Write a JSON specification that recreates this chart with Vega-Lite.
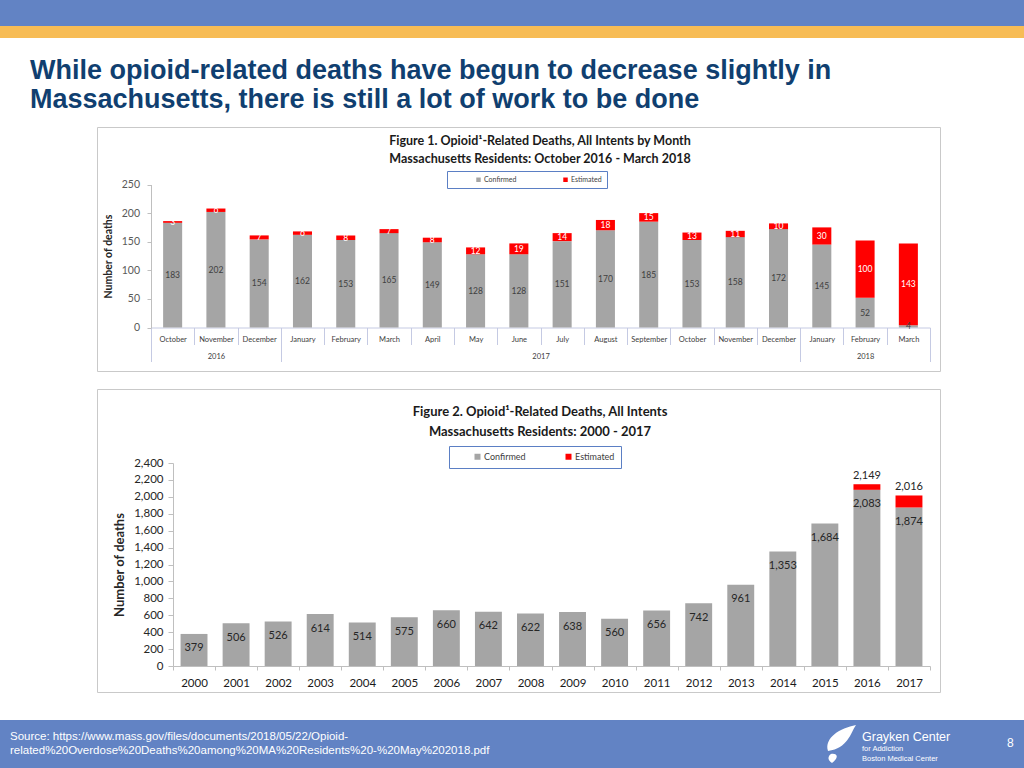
{
  "$schema": "https://vega.github.io/schema/vega-lite/v6.json",
  "padding": 0,
  "background": "#ffffff",
  "spacing": 0,
  "bounds": "full",
  "config": {"view": {"stroke": null}, "font": "Lato", "concat": {"spacing": 0}},
  "resolve": {"scale": {"color": "independent"}, "legend": {"color": "independent"}},
  "datasets": {
    "monthly": [
      {"key": "2016-10", "Confirmed": 183, "Estimated": 3},
      {"key": "2016-11", "Confirmed": 202, "Estimated": 6},
      {"key": "2016-12", "Confirmed": 154, "Estimated": 7},
      {"key": "2017-01", "Confirmed": 162, "Estimated": 6},
      {"key": "2017-02", "Confirmed": 153, "Estimated": 8},
      {"key": "2017-03", "Confirmed": 165, "Estimated": 7},
      {"key": "2017-04", "Confirmed": 149, "Estimated": 8},
      {"key": "2017-05", "Confirmed": 128, "Estimated": 12},
      {"key": "2017-06", "Confirmed": 128, "Estimated": 19},
      {"key": "2017-07", "Confirmed": 151, "Estimated": 14},
      {"key": "2017-08", "Confirmed": 170, "Estimated": 18},
      {"key": "2017-09", "Confirmed": 185, "Estimated": 15},
      {"key": "2017-10", "Confirmed": 153, "Estimated": 13},
      {"key": "2017-11", "Confirmed": 158, "Estimated": 11},
      {"key": "2017-12", "Confirmed": 172, "Estimated": 10},
      {"key": "2018-01", "Confirmed": 145, "Estimated": 30},
      {"key": "2018-02", "Confirmed": 52, "Estimated": 100},
      {"key": "2018-03", "Confirmed": 4, "Estimated": 143}
    ],
    "annual": [
      {"year": "2000", "Confirmed": 379},
      {"year": "2001", "Confirmed": 506},
      {"year": "2002", "Confirmed": 526},
      {"year": "2003", "Confirmed": 614},
      {"year": "2004", "Confirmed": 514},
      {"year": "2005", "Confirmed": 575},
      {"year": "2006", "Confirmed": 660},
      {"year": "2007", "Confirmed": 642},
      {"year": "2008", "Confirmed": 622},
      {"year": "2009", "Confirmed": 638},
      {"year": "2010", "Confirmed": 560},
      {"year": "2011", "Confirmed": 656},
      {"year": "2012", "Confirmed": 742},
      {"year": "2013", "Confirmed": 961},
      {"year": "2014", "Confirmed": 1353},
      {"year": "2015", "Confirmed": 1684},
      {"year": "2016", "Confirmed": 2083, "Estimated": 66},
      {"year": "2017", "Confirmed": 1874, "Estimated": 142}
    ]
  },
  "vconcat": [
    {"width": 1024, "height": 26, "data": {"values": [{}]}, "mark": {"type": "point", "opacity": 0}, "view": {"fill": "#6283c4", "stroke": null}},
    {"width": 1024, "height": 12, "data": {"values": [{}]}, "mark": {"type": "point", "opacity": 0}, "view": {"fill": "#f7bc55", "stroke": null}},
    {
      "width": 1024, "height": 88,
      "data": {"values": [{}]}, "mark": {"type": "point", "opacity": 0},
      "title": {
        "text": ["While opioid-related deaths have begun to decrease slightly in", "Massachusetts, there is still a lot of work to be done"],
        "anchor": "start", "frame": "group", "dx": 30, "offset": -75.5,
        "font": "Liberation Sans", "fontSize": 27, "fontWeight": "bold", "color": "#103f70", "lineHeight": 29
      }
    },
    {
      "hconcat": [
        {"width": 97, "height": 244, "data": {"values": [{}]}, "mark": {"type": "point", "opacity": 0}},
        {
          "width": 843, "height": 244,
          "data": {"name": "monthly"},
          "view": {"stroke": "#c9c9c9", "fill": "#ffffff"},
          "title": {
            "text": ["Figure 1. Opioid¹-Related Deaths, All Intents by Month", "Massachusetts Residents: October 2016 - March 2018"],
            "anchor": "middle", "frame": "group", "dx": 21.5, "offset": -38.6,
            "font": "Lato", "fontSize": 12.5, "fontWeight": "bold", "color": "#1a1a1a", "lineHeight": 18
          },
          "transform": [
            {"fold": ["Confirmed", "Estimated"], "as": ["type", "value"]},
            {"window": [{"op": "sum", "field": "value", "as": "cum1"}], "groupby": ["key"], "sort": [{"field": "type", "order": "ascending"}], "frame": [null, 0]},
            {"window": [{"op": "sum", "field": "cum1", "as": "cum2"}], "groupby": ["key"], "sort": [{"field": "type", "order": "ascending"}], "frame": [null, 0]}
          ],
          "layer": [
            {
              "mark": {"type": "bar", "width": {"band": 0.44}},
              "encoding": {
                "x": {
                  "field": "key", "type": "ordinal",
                  "scale": {"range": [54, 833], "paddingInner": 0, "paddingOuter": 0},
                  "axis": {
                    "orient": "bottom", "offset": -43.5, "title": null, "labelAngle": 0,
                    "labelExpr": "timeFormat(toDate(datum.value + '-15T12:00:00'), '%B')",
                    "tickBand": "extent", "tickSize": 17, "tickColor": "#c5cae3", "domainColor": "#c5cae3",
                    "labelPadding": -9, "labelFontSize": 7.5, "labelColor": "#404040", "labelOverlap": false, "labelFont": "Lato"
                  }
                },
                "y": {
                  "field": "value", "type": "quantitative", "stack": "zero",
                  "scale": {"domain": [0, 250], "range": [200.5, 57.5], "nice": false, "zero": false},
                  "axis": {
                    "orient": "left", "offset": -54, "values": [0, 50, 100, 150, 200, 250],
                    "title": "Number of deaths", "titleFontSize": 10.5, "titleFontWeight": "bold", "titleColor": "#262626", "titlePadding": 8, "titleFont": "Lato",
                    "tickSize": 4, "tickColor": "#bfbfbf", "domainColor": "#bfbfbf", "labelOverlap": false,
                    "labelPadding": 7.5, "labelFontSize": 10.5, "labelColor": "#595959", "grid": false, "labelFont": "Lato"
                  }
                },
                "color": {
                  "field": "type", "type": "nominal",
                  "scale": {"domain": ["Confirmed", "Estimated"], "range": ["#a5a5a5", "#ff0000"]},
                  "legend": {
                    "orient": "none", "legendX": 350, "legendY": 44, "direction": "horizontal", "title": null,
                    "strokeColor": "#5b7fc4", "fillColor": "#ffffff", "padding": 5,
                    "symbolType": "square", "symbolSize": 20, "symbolStrokeWidth": 0,
                    "labelFontSize": 7, "labelColor": "#404040", "labelFont": "Lato",
                    "columnPadding": 22, "symbolOffset": 23, "labelOffset": 2
                  }
                },
                "order": {"field": "type", "sort": "ascending"}
              }
            },
            {
              "mark": {"type": "text", "baseline": "middle", "fontSize": 8.5, "font": "Lato"},
              "encoding": {
                "x": {
                  "field": "key", "type": "ordinal",
                  "axis": {
                    "orient": "bottom", "offset": -43.5, "title": null, "domain": false, "labelAngle": 0,
                    "tickBand": "extent", "tickSize": 34, "tickColor": "#c5cae3",
                    "tickOpacity": {"condition": {"test": "datum.extra || indexof(['2016-12','2017-12','2018-03'], datum.value) >= 0", "value": 1}, "value": 0},
                    "labelPadding": -9,
                    "labelExpr": "datum.value === '2016-11' ? '2016' : datum.value === '2017-06' ? '2017' : datum.value === '2018-02' ? '2018' : ''",
                    "labelOffset": {"condition": {"test": "datum.value === '2017-06'", "value": 21.7}, "value": 0},
                    "labelFontSize": 7.5, "labelColor": "#404040", "labelOverlap": false, "labelFont": "Lato"
                  }
                },
                "y": {
                  "field": "cum2", "type": "quantitative",
                  "scale": {"domain": [0, 500], "range": [200.5, 57.5], "nice": false, "zero": false},
                  "axis": null
                },
                "text": {"field": "value", "type": "quantitative"},
                "color": {"condition": {"test": "datum.type === 'Estimated'", "value": "#ffffff"}, "value": "#404040"}
              }
            }
          ],
          "resolve": {"scale": {"y": "independent"}, "axis": {"x": "independent"}}
        },
        {"width": 84, "height": 244, "data": {"values": [{}]}, "mark": {"type": "point", "opacity": 0}}
      ],
      "spacing": 0, "bounds": "flush",
      "resolve": {"scale": {"color": "independent"}, "legend": {"color": "independent"}}
    },
    {"width": 1024, "height": 16, "data": {"values": [{}]}, "mark": {"type": "point", "opacity": 0}},
    {
      "hconcat": [
        {"width": 97, "height": 303, "data": {"values": [{}]}, "mark": {"type": "point", "opacity": 0}},
        {
          "width": 843, "height": 303,
          "data": {"name": "annual"},
          "view": {"stroke": "#c9c9c9", "fill": "#ffffff"},
          "title": {
            "text": ["Figure 2. Opioid¹-Related Deaths, All Intents", "Massachusetts Residents: 2000 - 2017"],
            "anchor": "middle", "frame": "group", "dx": 21.5, "offset": -49.5,
            "font": "Lato", "fontSize": 13, "fontWeight": "bold", "color": "#1a1a1a", "lineHeight": 20
          },
          "transform": [
            {"fold": ["Confirmed", "Estimated"], "as": ["type", "value"]},
            {"window": [{"op": "sum", "field": "value", "as": "cum1"}], "groupby": ["year"], "sort": [{"field": "type", "order": "ascending"}], "frame": [null, 0]}
          ],
          "encoding": {
            "x": {
              "field": "year", "type": "ordinal",
              "scale": {"range": [76, 833], "paddingInner": 0, "paddingOuter": 0},
              "axis": {
                "orient": "bottom", "offset": -26, "title": null, "labelAngle": 0,
                "tickBand": "extent", "tickSize": 4, "tickColor": "#bfbfbf", "domainColor": "#bfbfbf",
                "labelPadding": 7, "labelFontSize": 11.5, "labelColor": "#1a1a1a", "labelFont": "Lato"
              }
            }
          },
          "layer": [
            {
              "mark": {"type": "bar", "width": {"band": 0.64}},
              "encoding": {
                "y": {
                  "field": "value", "type": "quantitative", "stack": "zero",
                  "scale": {"domain": [0, 2400], "range": [277, 74], "nice": false, "zero": false},
                  "axis": {
                    "orient": "left", "offset": -76, "values": [0, 200, 400, 600, 800, 1000, 1200, 1400, 1600, 1800, 2000, 2200, 2400], "format": ",d",
                    "title": "Number of deaths", "titleFontSize": 13, "titleFontWeight": "bold", "titleColor": "#262626", "titlePadding": 7, "titleFont": "Lato",
                    "tickSize": 5, "tickColor": "#bfbfbf", "domainColor": "#bfbfbf", "labelOverlap": false,
                    "labelPadding": 5, "labelFontSize": 11.5, "labelColor": "#262626", "grid": false, "labelFont": "Lato"
                  }
                },
                "color": {
                  "field": "type", "type": "nominal",
                  "scale": {"domain": ["Confirmed", "Estimated"], "range": ["#a5a5a5", "#ff0000"]},
                  "legend": {
                    "orient": "none", "legendX": 352, "legendY": 57, "direction": "horizontal", "title": null,
                    "strokeColor": "#5b7fc4", "fillColor": "#ffffff", "padding": 6,
                    "symbolType": "square", "symbolSize": 36, "symbolStrokeWidth": 0,
                    "labelFontSize": 9, "labelColor": "#404040", "labelFont": "Lato",
                    "columnPadding": 20, "symbolOffset": 18, "labelOffset": 2
                  }
                },
                "order": {"field": "type", "sort": "ascending"}
              }
            },
            {
              "transform": [{"filter": "datum.type === 'Confirmed'"}],
              "mark": {"type": "text", "baseline": "middle", "dy": 14.5, "fontSize": 11, "font": "Lato", "color": "#262626"},
              "encoding": {
                "y": {
                  "field": "value", "type": "quantitative",
                  "axis": {
                    "orient": "left", "offset": -76, "values": [0, 200, 400, 600, 800, 1000, 1200, 1400, 1600, 1800, 2000, 2200, 2400], "format": ",d",
                    "title": "Number of deaths", "titleFontSize": 13, "titleFontWeight": "bold", "titleColor": "#262626", "titlePadding": 7, "titleFont": "Lato",
                    "tickSize": 5, "tickColor": "#bfbfbf", "domainColor": "#bfbfbf", "labelOverlap": false,
                    "labelPadding": 5, "labelFontSize": 11.5, "labelColor": "#262626", "grid": false, "labelFont": "Lato"
                  }
                },
                "text": {"field": "value", "type": "quantitative", "format": ",d"}
              }
            },
            {
              "transform": [{"filter": "datum.type === 'Estimated' && datum.value > 0"}],
              "mark": {"type": "text", "baseline": "bottom", "dy": -3, "fontSize": 11, "font": "Lato", "color": "#262626"},
              "encoding": {
                "y": {
                  "field": "cum1", "type": "quantitative",
                  "axis": {
                    "orient": "left", "offset": -76, "values": [0, 200, 400, 600, 800, 1000, 1200, 1400, 1600, 1800, 2000, 2200, 2400], "format": ",d",
                    "title": "Number of deaths", "titleFontSize": 13, "titleFontWeight": "bold", "titleColor": "#262626", "titlePadding": 7, "titleFont": "Lato",
                    "tickSize": 5, "tickColor": "#bfbfbf", "domainColor": "#bfbfbf", "labelOverlap": false,
                    "labelPadding": 5, "labelFontSize": 11.5, "labelColor": "#262626", "grid": false, "labelFont": "Lato"
                  }
                },
                "text": {"field": "cum1", "type": "quantitative", "format": ",d"}
              }
            }
          ]
        },
        {"width": 84, "height": 303, "data": {"values": [{}]}, "mark": {"type": "point", "opacity": 0}}
      ],
      "spacing": 0, "bounds": "flush",
      "resolve": {"scale": {"color": "independent"}, "legend": {"color": "independent"}}
    },
    {"width": 1024, "height": 27, "data": {"values": [{}]}, "mark": {"type": "point", "opacity": 0}},
    {
      "hconcat": [
        {
          "width": 822, "height": 48,
          "data": {"values": [{}]}, "mark": {"type": "point", "opacity": 0},
          "view": {"fill": "#6283c4", "stroke": null},
          "title": {
            "text": ["Source: https://www.mass.gov/files/documents/2018/05/22/Opioid-", "related%20Overdose%20Deaths%20among%20MA%20Residents%20-%20May%202018.pdf"],
            "anchor": "start", "frame": "group", "dx": 10, "offset": -36.3,
            "font": "Liberation Sans", "fontSize": 11.5, "fontWeight": "normal", "color": "#ffffff", "lineHeight": 14
          }
        },
        {
          "width": 40, "height": 48,
          "data": {"values": [{}]},
          "mark": {"type": "point", "filled": true, "color": "#ffffff", "opacity": 1, "size": 1600,
            "shape": "M -0.7 0.35 C -0.9 -0.3 -0.1 -0.8 0.7 -0.95 C 0.4 -0.5 0.3 0.2 -0.7 0.35 Z M -0.55 0.5 C -0.2 0.45 -0.15 0.7 -0.5 0.95 C -0.75 0.8 -0.7 0.6 -0.55 0.5 Z"},
          "view": {"fill": "#6283c4", "stroke": null}
        },
        {
          "width": 108, "height": 48,
          "data": {"values": [{}]}, "mark": {"type": "point", "opacity": 0},
          "view": {"fill": "#6283c4", "stroke": null},
          "title": {
            "text": "Grayken Center", "subtitle": ["for Addiction", "Boston Medical Center"],
            "anchor": "start", "frame": "group", "dx": 0, "offset": -42.5,
            "font": "Liberation Sans", "fontSize": 12.5, "fontWeight": "normal", "color": "#ffffff",
            "subtitleFont": "Liberation Sans", "subtitleFontSize": 7.5, "subtitleColor": "#ffffff", "subtitleLineHeight": 10, "subtitlePadding": 2
          }
        },
        {
          "width": 54, "height": 48,
          "data": {"values": [{}]}, "mark": {"type": "point", "opacity": 0},
          "view": {"fill": "#6283c4", "stroke": null},
          "title": {
            "text": "8", "anchor": "start", "frame": "group", "dx": 37, "offset": -29.5,
            "font": "Liberation Sans", "fontSize": 12, "fontWeight": "normal", "color": "#ffffff"
          }
        }
      ],
      "spacing": 0, "bounds": "flush"
    }
  ]
}
